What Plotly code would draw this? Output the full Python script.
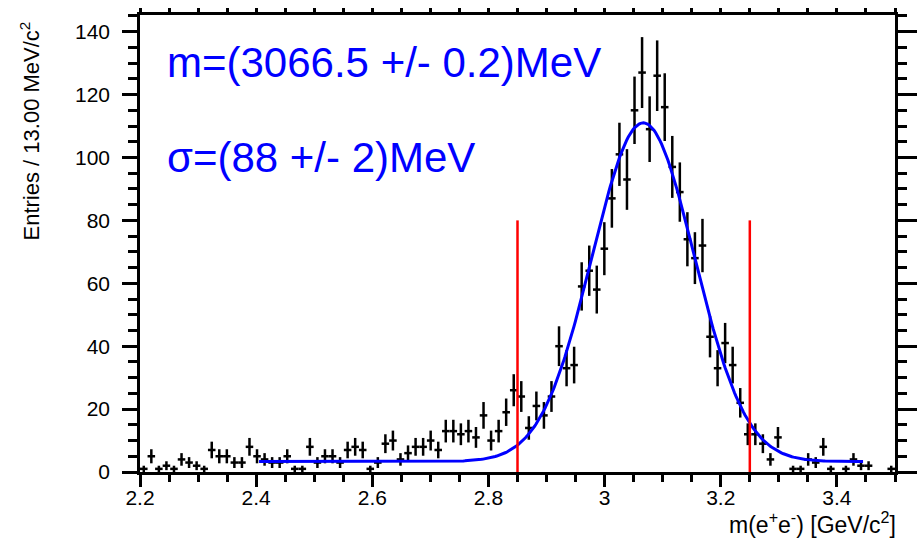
import numpy as np
import plotly.graph_objects as go

# Histogram binning: 100 bins of 13 MeV from 2.2 to 3.5 GeV/c^2
x_lo, x_hi, n_bins = 2.2, 3.5, 100
bin_w = (x_hi - x_lo) / n_bins

# Entries per bin
counts = [
    1, 5, 1, 2, 1, 4, 3, 2, 1, 7,
    5, 5, 3, 3, 8, 5, 4, 3, 3, 5,
    1, 1, 8, 3, 5, 5, 3, 7, 8, 7,
    1, 3, 9, 10, 4, 6, 8, 8, 10, 7,
    13, 13, 12, 13, 11, 18, 10, 13, 19, 26,
    24, 14, 21, 18, 24, 40, 33, 34, 59, 64,
    58, 71, 87, 101, 93, 115, 127, 109, 126, 116,
    97, 89, 74, 68, 72, 43, 33, 41, 34, 22,
    12, 12, 9, 4, 11, 0, 1, 1, 4, 3,
    8, 1, 0, 1, 4, 2, 2, 0, 0, 1,
]

# Fit result (Gaussian + flat background)
fit_mean = 3.0665      # GeV
fit_sigma = 0.088      # GeV
fit_amp = 107.7
fit_bkg = 3.3
fit_range = [2.405, 3.445]

# Signal window markers
window_x = [2.85, 3.25]
window_top = 80

# Axis ticks
x_major = [2.2, 2.4, 2.6, 2.8, 3.0, 3.2, 3.4]
x_major_text = ["2.2", "2.4", "2.6", "2.8", "3", "3.2", "3.4"]
y_major = [0, 20, 40, 60, 80, 100, 120, 140]
y_max = 145.3

centers = x_lo + bin_w * (np.arange(n_bins) + 0.5)
counts_arr = np.array(counts, dtype=float)
mask = counts_arr > 0

FONT = "Liberation Sans, Arial, Helvetica, sans-serif"

fig = go.Figure()

# data points with sqrt(N) errors and half-bin horizontal bars
fig.add_trace(go.Scatter(
    x=centers[mask], y=counts_arr[mask],
    mode="markers",
    marker=dict(size=2, color="black"),
    error_y=dict(type="data", array=np.sqrt(counts_arr[mask]), color="black",
                 thickness=2.5, width=0),
    error_x=dict(type="constant", value=bin_w / 2, color="black",
                 thickness=2.5, width=0),
    showlegend=False, hoverinfo="skip",
))

# fitted curve
xf = np.linspace(fit_range[0], fit_range[1], 400)
yf = fit_bkg + fit_amp * np.exp(-0.5 * ((xf - fit_mean) / fit_sigma) ** 2)
fig.add_trace(go.Scatter(
    x=xf, y=yf, mode="lines", line=dict(color="#0000ff", width=3),
    showlegend=False, hoverinfo="skip",
))

# window lines
for wx in window_x:
    fig.add_trace(go.Scatter(
        x=[wx, wx], y=[0, window_top], mode="lines",
        line=dict(color="#ff0000", width=2.5),
        showlegend=False, hoverinfo="skip",
    ))

# empty trace so the mirrored top/right axes get drawn
fig.add_trace(go.Scatter(x=[None], y=[None], xaxis="x2", yaxis="y2",
                         showlegend=False, hoverinfo="skip"))

axis_common = dict(showgrid=False, zeroline=False, showline=True,
                   linecolor="black", linewidth=2.5, ticks="outside",
                   tickcolor="black", tickwidth=2.5, automargin=False)

fig.update_layout(
    width=919, height=538,
    margin=dict(l=140, r=24, t=15, b=66),
    paper_bgcolor="white", plot_bgcolor="white",
    font=dict(family=FONT, color="black", size=21),
    xaxis=dict(range=[x_lo, x_hi], tickvals=x_major, ticktext=x_major_text,
               ticklen=12, ticklabelstandoff=-7,
               minor=dict(dtick=0.05, tick0=2.2, ticklen=7, ticks="outside",
                          tickcolor="black", tickwidth=2.5),
               tickfont=dict(size=21), **axis_common),
    yaxis=dict(range=[0, y_max], tickvals=y_major, ticklen=15,
               ticklabelstandoff=8,
               minor=dict(dtick=5, tick0=0, ticklen=9, ticks="outside",
                          tickcolor="black", tickwidth=2.5),
               tickfont=dict(size=21), **axis_common),
    xaxis2=dict(range=[x_lo, x_hi], overlaying="x", side="top", anchor="y2",
                tick0=2.2, dtick=0.05, ticklen=4, showticklabels=False,
                **axis_common),
    yaxis2=dict(range=[0, y_max], overlaying="y", side="right", anchor="x2",
                tickvals=y_major, ticklen=19, showticklabels=False,
                minor=dict(dtick=5, tick0=0, ticklen=9, ticks="outside",
                           tickcolor="black", tickwidth=2.5),
                **axis_common),
)

# axis titles
fig.add_annotation(
    text="Entries / 13.00 MeV/c<sup>2</sup>", textangle=-90,
    xref="paper", yref="paper", x=(30 - 140) / 755, y=1 - 5 / 457,
    xanchor="center", yanchor="top", showarrow=False,
    font=dict(size=22, family=FONT),
)
fig.add_annotation(
    text="m(e<sup>+</sup>e<sup>-</sup>) [GeV/c<sup>2</sup>]",
    xref="paper", yref="paper", x=(898 - 140) / 755, y=(472 - 523) / 457,
    xanchor="right", yanchor="middle", showarrow=False,
    font=dict(size=23, family=FONT),
)

# fit parameters
fig.add_annotation(
    text="m=(3066.5 +/- 0.2)MeV",
    xref="paper", yref="paper", x=(165 - 140) / 755, y=(472 - 62) / 457,
    xanchor="left", yanchor="middle", showarrow=False,
    font=dict(size=42, family=FONT, color="#0000ff"),
)
fig.add_annotation(
    text="σ=(88 +/- 2)MeV",
    xref="paper", yref="paper", x=(165 - 140) / 755, y=(472 - 157) / 457,
    xanchor="left", yanchor="middle", showarrow=False,
    font=dict(size=42, family=FONT, color="#0000ff"),
)

fig.write_html("out.html")
